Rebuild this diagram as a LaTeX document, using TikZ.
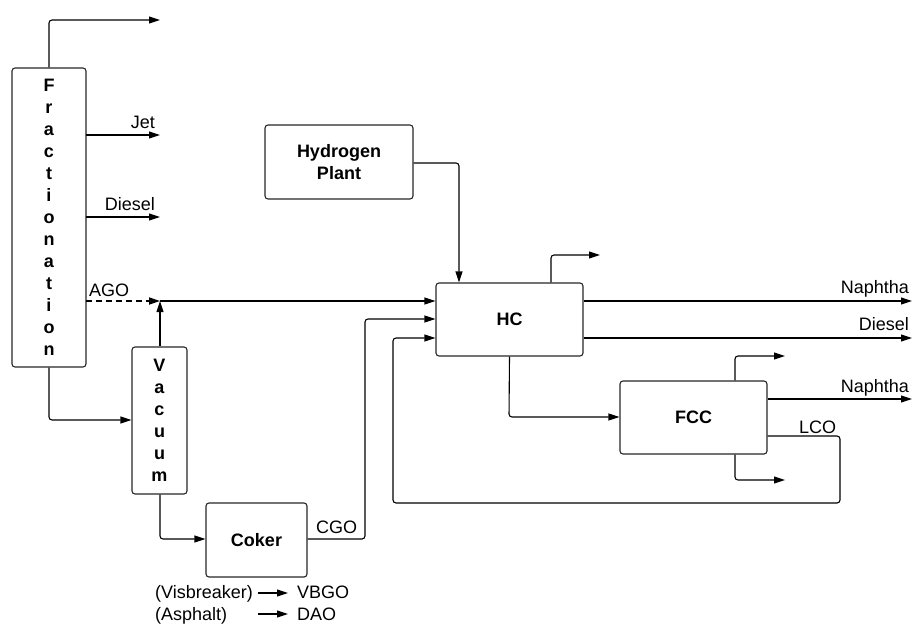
\documentclass[tikz,border=0pt]{standalone}
\usepackage{fontspec}
\setmainfont{Liberation Sans}
\usetikzlibrary{arrows.meta}
\begin{document}
\begin{tikzpicture}[x=1pt,y=-1pt,
  box/.style={draw=black!85, line width=1.1pt, rounded corners=3pt, align=center, inner sep=0pt,
    font=\fontsize{18}{22}\selectfont\bfseries},
  flow/.style={draw=black, line width=1.1pt, rounded corners=3pt, -{Triangle[length=11pt,width=7pt]}},
  lbl/.style={inner sep=0pt, font=\fontsize{18}{22}\selectfont}
]
\useasboundingbox (0,0) rectangle (913,624);

% boxes
\node[box, minimum width=74pt, minimum height=299pt] (frac) at (49,217.5)
  {F\\r\\a\\c\\t\\i\\o\\n\\a\\t\\i\\o\\n};
\node[box, minimum width=55pt, minimum height=147pt] (vac) at (159.5,420.5)
  {V\\a\\c\\u\\u\\m};
\node[box, minimum width=101pt, minimum height=74pt] (coker) at (256.5,540) {Coker};
\node[box, minimum width=148pt, minimum height=74pt] (hyd) at (339,162) {Hydrogen\\Plant};
\node[box, minimum width=147pt, minimum height=73pt] (hc) at (509.5,319.5) {HC};
\node[box, minimum width=147pt, minimum height=73pt] (fcc) at (693.5,417.5) {FCC};

% free ends
\coordinate (fracTop) at (160,20);
\coordinate (jetEnd) at (160,135);
\coordinate (dslEnd) at (160,217);
\coordinate (agoEnd) at (160,301);
\coordinate (hcTopEnd) at (600,255);
\coordinate (hcNaph) at (912,301);
\coordinate (hcDsl) at (912,338);
\coordinate (fccTopEnd) at (785,356);
\coordinate (fccNaph) at (912,399);
\coordinate (fccBotEnd) at (785,480);

% Fractionation outputs
\draw[flow] (frac.north) -- (49,20) -- (fracTop);
\draw[flow] (86,135) -- (jetEnd);
\draw[flow] (86,217) -- (dslEnd);
\draw[flow, line width=1.7pt, dash pattern=on 6pt off 4pt] (86,301) -- (agoEnd);
\draw[flow] (agoEnd) -- (hc.west |- agoEnd);
\draw[flow] (vac.north -| agoEnd) -- (agoEnd);
\draw[flow] (frac.south) -- (49,420) -- (vac.west |- 0,420);
\draw[flow] (vac.south -| agoEnd) -- (160,539) -- (coker.west |- 0,539);

% Coker to HC
\draw[flow] (coker.east |- 0,539) -- (365,539) -- (365,319) -- (hc.west |- 0,319);

% Hydrogen to HC
\draw[flow] (hyd.east |- 0,163) -- (459,163) -- (hc.north -| 459,0);

% HC outputs
\draw[flow] (hc.north -| 551,0) -- (551,255) -- (hcTopEnd);
\draw[flow] (hc.east |- hcNaph) -- (hcNaph);
\draw[flow] (hc.east |- hcDsl) -- (hcDsl);
\draw[flow] (hc.south) -- (509,417) -- (fcc.west |- 0,417);

% FCC outputs
\draw[flow] (fcc.north -| 735,0) -- (735,356) -- (fccTopEnd);
\draw[flow] (fcc.east |- fccNaph) -- (fccNaph);
\draw[flow] (fcc.south -| 735,0) -- (735,480) -- (fccBotEnd);
\draw[flow] (fcc.east |- 0,436) -- (840,436) -- (840,503) -- (393,503) -- (393,338) -- (hc.west |- 0,338);

% labels
\node[lbl, anchor=base east] (ljet) at (155,128) {Jet};
\node[lbl, anchor=base east] (ldsl) at (155,210) {Diesel};
\node[lbl, anchor=base west] (lago) at (89,296.5) {AGO};
\node[lbl, anchor=base west] (lcgo) at (316,533) {CGO};
\node[lbl, anchor=base east] (lnaph1) at (909,293) {Naphtha};
\node[lbl, anchor=base east] (ldsl2) at (909,330) {Diesel};
\node[lbl, anchor=base east] (lnaph2) at (909,392) {Naphtha};
\node[lbl, anchor=base west] (llco) at (799,433) {LCO};

% Visbreaker / Asphalt
\node[lbl, anchor=base west] (visb) at (155,598) {(Visbreaker)};
\node[lbl, anchor=base west] (vbgo) at (297,598) {VBGO};
\node[lbl, anchor=base west] (asph) at (155,620) {(Asphalt)};
\node[lbl, anchor=base west] (dao) at (297,620) {DAO};
\coordinate (v1) at (258,593);
\coordinate (v2) at (288,593);
\coordinate (a1) at (258,614);
\coordinate (a2) at (288,614);
\draw[flow] (v1) -- (v2);
\draw[flow] (a1) -- (a2);
\end{tikzpicture}
\end{document}
